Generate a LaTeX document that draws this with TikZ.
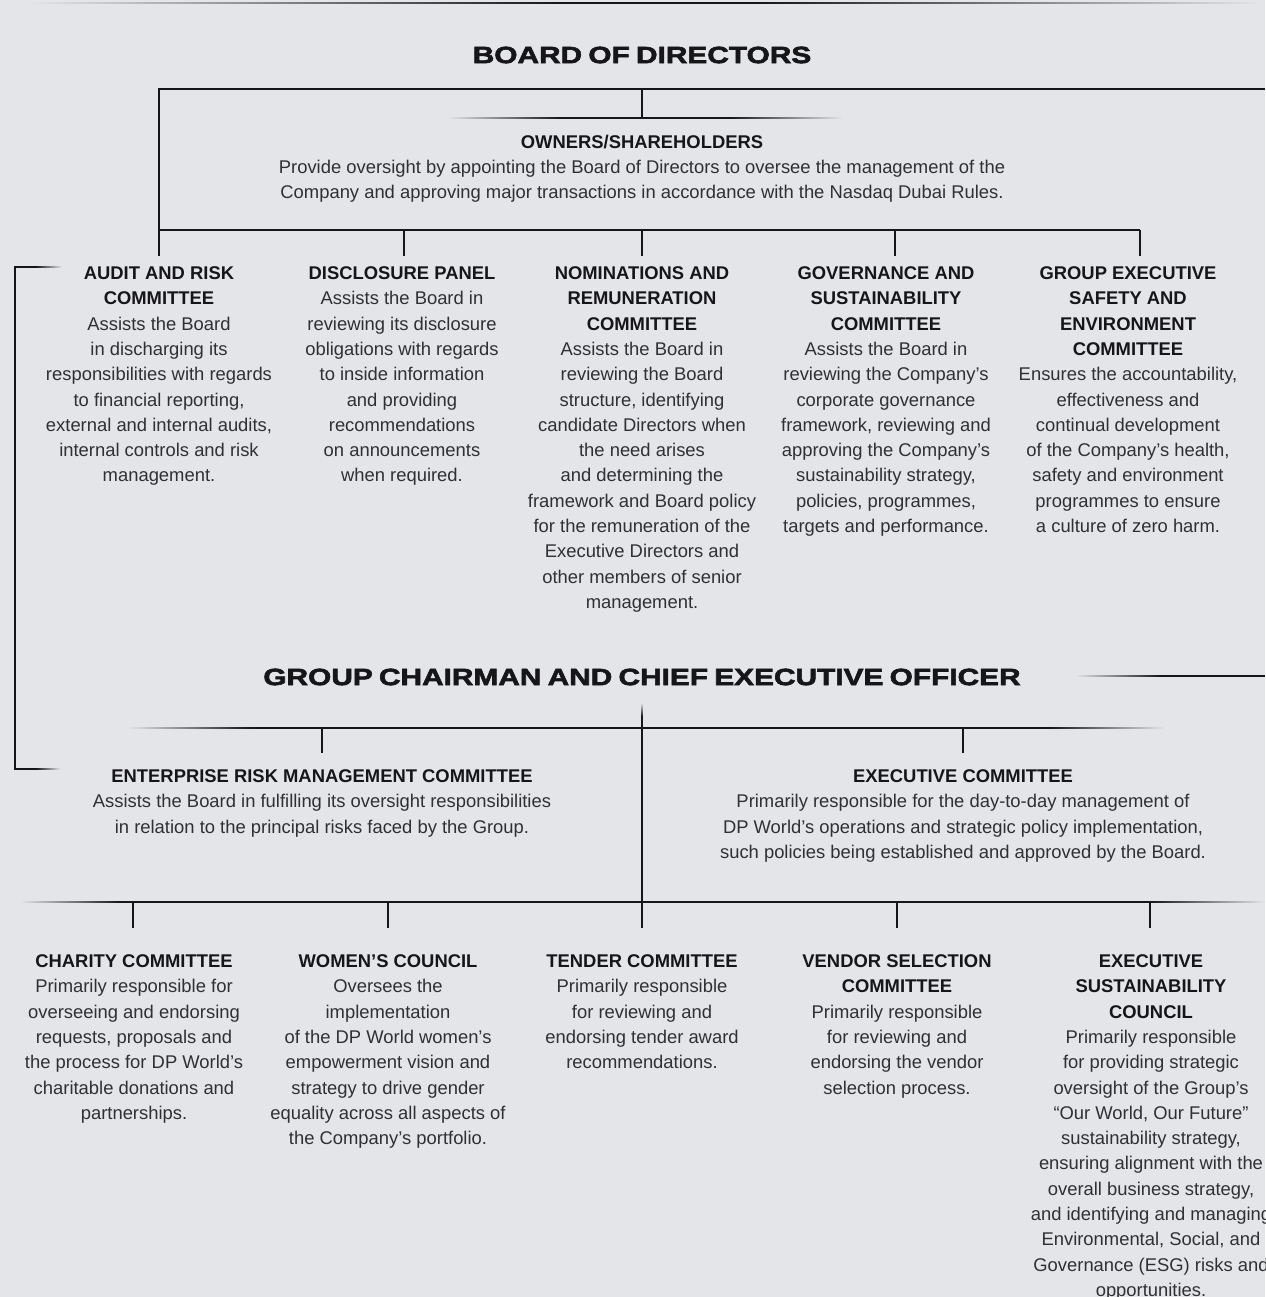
\documentclass[tikz,border=0pt]{standalone}
\usepackage{fontspec}
\setmainfont{Liberation Sans}
\newfontfamily\titlefont{Liberation Sans}[FakeStretch=1.27,FakeBold=2.6,WordSpace=0.75]

\definecolor{bgc}{RGB}{228,229,233}
\definecolor{ink}{RGB}{22,22,24}
\definecolor{txt}{RGB}{48,48,52}

\newcommand\hd[1]{\textcolor{ink}{\bfseries #1}}

\tikzset{
  bar/.style={ink, line width=1.8pt},
  trunk/.style={ink, line width=1.4pt},
  stub/.style={trunk, shorten >=#1},
  stub/.default=10pt,
  unit/.style={align=center, anchor=north, inner sep=0pt, text=txt,
    font=\fontsize{18.4}{25.3}\selectfont},
  bigtitle/.style={inner sep=0pt, text=ink,
    font=\titlefont\bfseries\fontsize{23.5}{28}\selectfont}
}

\begin{document}
\begin{tikzpicture}[x=1pt,y=-1pt]
  \fill[bgc] (0,0) rectangle (1265,1297);
  \useasboundingbox (0,0) rectangle (1265,1297);

  % rule along the top edge
  \shade[left color=bgc, right color=ink] (30,2.1) rectangle (560,3.9);
  \fill[ink] (560,2.1) rectangle (760,3.9);
  \shade[left color=ink, right color=bgc] (760,2.1) rectangle (1262,3.9);

  % titles
  \node[bigtitle] (board) at (642,55) {BOARD OF DIRECTORS};
  \node[bigtitle] (ceo) at (642,677) {GROUP CHAIRMAN AND CHIEF EXECUTIVE OFFICER};

  % owners
  \node[unit] (own) at (642,134.5) {\hd{OWNERS/SHAREHOLDERS}\\
    Provide oversight by appointing the Board of Directors to oversee the management of the\\
    Company and approving major transactions in accordance with the Nasdaq Dubai Rules.};

  % board committees
  \node[unit] (aud) at (159,266.5) {\hd{AUDIT AND RISK}\\\hd{COMMITTEE}\\
    Assists the Board\\in discharging its\\responsibilities with regards\\
    to financial reporting,\\external and internal audits,\\
    internal controls and risk\\management.};
  \node[unit] (dis) at (402,266.5) {\hd{DISCLOSURE PANEL}\\
    Assists the Board in\\reviewing its disclosure\\obligations with regards\\
    to inside information\\and providing\\recommendations\\
    on announcements\\when required.};
  \node[unit] (nom) at (642,266.5) {\hd{NOMINATIONS AND}\\\hd{REMUNERATION}\\\hd{COMMITTEE}\\
    Assists the Board in\\reviewing the Board\\structure, identifying\\
    candidate Directors when\\the need arises\\and determining the\\
    framework and Board policy\\for the remuneration of the\\
    Executive Directors and\\other members of senior\\management.};
  \node[unit] (gov) at (886,266.5) {\hd{GOVERNANCE AND}\\\hd{SUSTAINABILITY}\\\hd{COMMITTEE}\\
    Assists the Board in\\reviewing the Company’s\\corporate governance\\
    framework, reviewing and\\approving the Company’s\\
    sustainability strategy,\\policies, programmes,\\targets and performance.};
  \node[unit] (gse) at (1128,266.5) {\hd{GROUP EXECUTIVE}\\\hd{SAFETY AND}\\\hd{ENVIRONMENT}\\\hd{COMMITTEE}\\
    Ensures the accountability,\\effectiveness and\\continual development\\
    of the Company’s health,\\safety and environment\\
    programmes to ensure\\a culture of zero harm.};

  % management committees
  \node[unit] (erm) at (322,769.5) {\hd{ENTERPRISE RISK MANAGEMENT COMMITTEE}\\
    Assists the Board in fulfilling its oversight responsibilities\\
    in relation to the principal risks faced by the Group.};
  \node[unit] (exc) at (963,769.5) {\hd{EXECUTIVE COMMITTEE}\\
    Primarily responsible for the day-to-day management of\\
    DP World’s operations and strategic policy implementation,\\
    such policies being established and approved by the Board.};

  \node[unit] (cha) at (134,954.5) {\hd{CHARITY COMMITTEE}\\
    Primarily responsible for\\overseeing and endorsing\\requests, proposals and\\
    the process for DP World’s\\charitable donations and\\partnerships.};
  \node[unit] (wom) at (388,954.5) {\hd{WOMEN’S COUNCIL}\\
    Oversees the\\implementation\\of the DP World women’s\\
    empowerment vision and\\strategy to drive gender\\
    equality across all aspects of\\the Company’s portfolio.};
  \node[unit] (ten) at (642,954.5) {\hd{TENDER COMMITTEE}\\
    Primarily responsible\\for reviewing and\\endorsing tender award\\recommendations.};
  \node[unit] (ven) at (897,954.5) {\hd{VENDOR SELECTION}\\\hd{COMMITTEE}\\
    Primarily responsible\\for reviewing and\\endorsing the vendor\\selection process.};
  \node[unit] (esc) at (1151,954.5) {\hd{EXECUTIVE}\\\hd{SUSTAINABILITY}\\\hd{COUNCIL}\\
    Primarily responsible\\for providing strategic\\oversight of the Group’s\\
    “Our World, Our Future”\\sustainability strategy,\\
    ensuring alignment with the\\overall business strategy,\\
    and identifying and managing\\Environmental, Social, and\\
    Governance (ESG) risks and\\opportunities.};

  % board bracket
  \coordinate (bl) at (159,89);
  \coordinate (br) at (1265,89);
  \coordinate (bm) at (642,89);
  \coordinate (om) at (642,118);
  \coordinate (r1a) at (159,230);
  \coordinate (r1b) at (404,230);
  \coordinate (r1c) at (642,230);
  \coordinate (r1d) at (895,230);
  \coordinate (r1e) at (1140,230);
  \draw[bar] (br) -- (bl) -- (r1a) -- (r1e);
  \draw[trunk] (bm) -- (om);
  \shade[left color=bgc, right color=ink] (447,117.1) rectangle (560,118.9);
  \fill[ink] (560,117.1) rectangle (730,118.9);
  \shade[left color=ink, right color=bgc] (730,117.1) rectangle (843,118.9);
  \draw[stub=10.5pt] (r1a) -- (r1a |- aud.north);
  \draw[stub=10.5pt] (r1b) -- (r1b |- dis.north);
  \draw[stub=10.5pt] (r1c) -- (r1c |- nom.north);
  \draw[stub=10.5pt] (r1d) -- (r1d |- gov.north);
  \draw[stub=10.5pt] (r1e) -- (r1e |- gse.north);

  % audit link down to enterprise risk
  \coordinate (lk1) at (15,267);
  \coordinate (lk2) at (15,769);
  \draw[bar] (36,267) -- (lk1) -- (lk2) -- (36,769);
  \shade[left color=ink, right color=bgc] (36,266.1) rectangle (62,267.9);
  \shade[left color=ink, right color=bgc] (36,768.1) rectangle (60,769.9);

  % line off to the right of the chairman
  \shade[left color=bgc, right color=ink] (1075,675.1) rectangle (1160,676.9);
  \fill[ink] (1160,675.1) rectangle (1265,676.9);

  % chairman trunk and bars
  \coordinate (ct) at (642,716);
  \coordinate (m2) at (642,728);
  \coordinate (m3) at (642,902);
  \shade[top color=bgc, bottom color=ink] (641.3,703) rectangle (642.7,716);
  \draw[trunk] (ct) -- (m3);
  \shade[left color=bgc, right color=ink] (128,727.1) rectangle (250,728.9);
  \fill[ink] (250,727.1) rectangle (1050,728.9);
  \shade[left color=ink, right color=bgc] (1050,727.1) rectangle (1165,728.9);
  \coordinate (r2a) at (322,728);
  \coordinate (r2b) at (963,728);
  \draw[stub=16.5pt] (r2a) -- (r2a |- erm.north);
  \draw[stub=16.5pt] (r2b) -- (r2b |- exc.north);

  \shade[left color=bgc, right color=ink] (20,901.1) rectangle (120,902.9);
  \fill[ink] (120,901.1) rectangle (1150,902.9);
  \shade[left color=ink, right color=bgc] (1150,901.1) rectangle (1265,902.9);
  \coordinate (r3a) at (133,902);
  \coordinate (r3b) at (388,902);
  \coordinate (r3d) at (897,902);
  \coordinate (r3e) at (1150,902);
  \draw[stub=26.5pt] (r3a) -- (r3a |- cha.north);
  \draw[stub=26.5pt] (r3b) -- (r3b |- wom.north);
  \draw[stub=26.5pt] (m3) -- (m3 |- ten.north);
  \draw[stub=26.5pt] (r3d) -- (r3d |- ven.north);
  \draw[stub=26.5pt] (r3e) -- (r3e |- esc.north);
\end{tikzpicture}
\end{document}
